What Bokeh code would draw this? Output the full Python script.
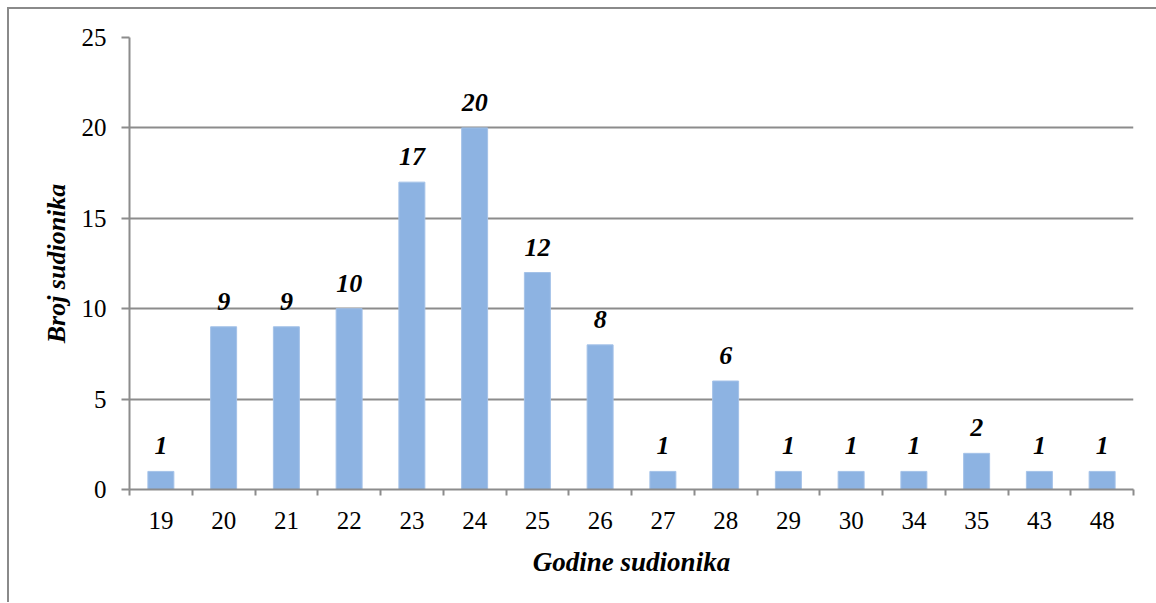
from bokeh.plotting import figure
from bokeh.models import Range1d, FixedTicker, ColumnDataSource
from bokeh.core.properties import value
from bokeh.embed import file_html
from bokeh.resources import INLINE

ages = ["19", "20", "21", "22", "23", "24", "25", "26", "27", "28", "29", "30", "34", "35", "43", "48"]
counts = [1, 9, 9, 10, 17, 20, 12, 8, 1, 6, 1, 1, 1, 2, 1, 1]
y_ticks = [0, 5, 10, 15, 20, 25]
x_title = "Godine sudionika"
y_title = "Broj sudionika"

n = len(ages)
centers = [i + 0.5 for i in range(n)]
src = ColumnDataSource(dict(x=centers, top=counts, lbl=[str(c) for c in counts]))

FONT = "Liberation Serif"
GRID = "#8c8c8c"

p = figure(width=1148, height=593, output_backend="svg", toolbar_location=None,
           x_range=Range1d(0, n), y_range=Range1d(0, 25),
           frame_width=1004, frame_height=452,
           min_border_left=120, min_border_top=28, min_border_right=24, min_border_bottom=113)
p.outline_line_color = None
p.styles = {"border-left": "2px solid #8a8a8a", "border-top": "2px solid #8a8a8a",
            "margin-left": "7px", "margin-top": "7px"}

p.vbar(x="x", top="top", width=0.414, source=src, fill_color="#8db3e2", line_color="#a4c2e8", line_width=1)
p.text(x="x", y="top", text="lbl", source=src, text_align="center", text_baseline="bottom",
       y_offset=-17, text_font=value(FONT), text_font_style="bold italic", text_font_size="26px",
       text_color="black")

# x axis
p.xaxis.ticker = FixedTicker(ticks=centers, minor_ticks=list(range(n + 1)))
p.xaxis.major_label_overrides = {c: a for c, a in zip(centers, ages)}
p.xaxis.major_tick_line_color = None
p.xaxis.minor_tick_in = 0
p.xaxis.minor_tick_out = 6
p.xaxis.minor_tick_line_color = GRID
p.xaxis.minor_tick_line_width = 2
p.xaxis.axis_line_color = GRID
p.xaxis.axis_line_width = 2
p.xaxis.major_label_text_font = FONT
p.xaxis.major_label_text_font_size = "25px"
p.xaxis.major_label_text_color = "black"
p.xaxis.major_label_standoff = 16
p.xaxis.axis_label = x_title
p.xaxis.axis_label_text_font = FONT
p.xaxis.axis_label_text_font_style = "bold italic"
p.xaxis.axis_label_text_font_size = "27px"
p.xaxis.axis_label_text_color = "black"
p.xaxis.axis_label_standoff = 15

# y axis
p.yaxis.ticker = FixedTicker(ticks=y_ticks)
p.yaxis.minor_tick_line_color = None
p.yaxis.major_tick_in = 0
p.yaxis.major_tick_out = 8
p.yaxis.major_tick_line_color = GRID
p.yaxis.major_tick_line_width = 2
p.yaxis.axis_line_color = GRID
p.yaxis.axis_line_width = 2
p.yaxis.major_label_text_font = FONT
p.yaxis.major_label_text_font_size = "25px"
p.yaxis.major_label_text_color = "black"
p.yaxis.major_label_standoff = 15
p.yaxis.axis_label = y_title
p.yaxis.axis_label_text_font = FONT
p.yaxis.axis_label_text_font_style = "bold italic"
p.yaxis.axis_label_text_font_size = "26px"
p.yaxis.axis_label_text_color = "black"
p.yaxis.axis_label_standoff = 8

p.xgrid.grid_line_color = None
p.ygrid.ticker = FixedTicker(ticks=y_ticks)
p.ygrid.grid_line_color = GRID
p.ygrid.grid_line_width = 2

open("out.html", "w").write(file_html(p, INLINE))
